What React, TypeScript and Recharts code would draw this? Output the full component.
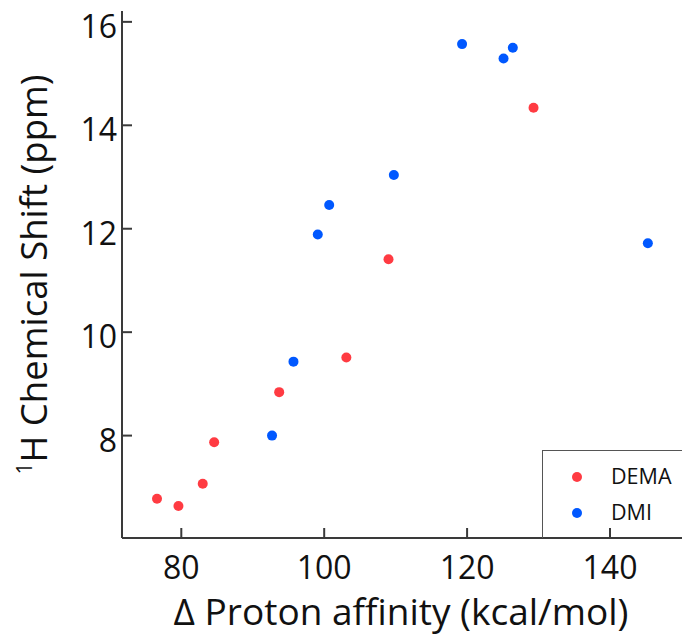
import React from "react"
import { ScatterChart, Scatter, XAxis, YAxis, Legend, Label } from "recharts"

// values
const demaX = [76.6, 79.6, 83.0, 84.6, 93.7, 103.1, 109.0, 129.3]
const demaY = [6.78, 6.64, 7.07, 7.87, 8.84, 9.51, 11.41, 14.34]
const dmiX = [92.7, 95.7, 99.1, 100.7, 109.75, 119.3, 125.1, 126.4, 145.3]
const dmiY = [8.0, 9.43, 11.89, 12.46, 13.04, 15.57, 15.29, 15.5, 11.72]
const xTicks = [80, 100, 120, 140]
const yTicks = [8, 10, 12, 14, 16]

const xDomain = [71.7, 150.36]
const yDomain = [6.02, 16.21]

const FONT = "'Open Sans', sans-serif"
const AXIS = "#3a3a3a"
const RED = "#ff3b42"
const BLUE = "#0058ff"

const dema = demaX.map((x, i) => ({ x, y: demaY[i] }))
const dmi = dmiX.map((x, i) => ({ x, y: dmiY[i] }))

function BottomTick({ x, y, payload }: any) {
  return (
    <g>
      <line x1={x} y1={y} x2={x} y2={y - 10} stroke={AXIS} strokeWidth={2} />
      <text x={x} y={y + 41} textAnchor="middle" fontSize={32} fontFamily={FONT} fill="#111">
        {payload.value}
      </text>
    </g>
  )
}

function LeftTick({ x, y, payload }: any) {
  return (
    <g>
      <line x1={x} y1={y} x2={x + 10} y2={y} stroke={AXIS} strokeWidth={2} />
      <text x={x - 5} y={y + 16} textAnchor="end" fontSize={32} fontFamily={FONT} fill="#111">
        {payload.value}
      </text>
    </g>
  )
}

function TopTick({ x, y }: any) {
  return <line x1={x} y1={y} x2={x} y2={y + 10} stroke={AXIS} strokeWidth={2} />
}

function RightTick({ x, y }: any) {
  return <line x1={x} y1={y} x2={x - 10} y2={y} stroke={AXIS} strokeWidth={2} />
}

function Dot(color: string) {
  return (p: any) => <circle cx={p.cx} cy={p.cy} r={5} fill={color} />
}

function LegendBox({ payload }: any) {
  return (
    <div
      style={{
        position: "relative",
        width: 150,
        height: 88,
        boxSizing: "border-box",
        borderLeft: "1.5px solid #555",
        borderTop: "1.5px solid #555",
        fontFamily: FONT,
        fontSize: 21.5,
        color: "#111",
      }}
    >
      {(payload || []).map((entry: any, i: number) => (
        <div key={entry.value} style={{ position: "absolute", left: 0, top: 26 + i * 35.7 }}>
          <span
            style={{
              position: "absolute",
              left: 28.5,
              top: -5,
              width: 10,
              height: 10,
              borderRadius: 5,
              background: entry.color,
            }}
          />
          <span style={{ position: "absolute", left: 68, top: -15, lineHeight: "28px", whiteSpace: "nowrap" }}>
            {entry.value}
          </span>
        </div>
      ))}
    </div>
  )
}

export default function App() {
  return (
    <div style={{ position: "absolute", left: 0, top: 0, width: 682, height: 636, overflow: "hidden", background: "#fff" }}>
      <ScatterChart width={690} height={636} margin={{ top: 11, right: 6, bottom: 0, left: 0 }}>
        <XAxis
          xAxisId="bottom"
          type="number"
          dataKey="x"
          domain={xDomain}
          allowDataOverflow
          ticks={xTicks}
          interval={0}
          height={98}
          tickSize={0}
          tickMargin={0}
          tickLine={false}
          axisLine={{ stroke: AXIS, strokeWidth: 2 }}
          tick={<BottomTick />}
        >
          <Label
            content={({ viewBox }: any) => (
              <text
                x={viewBox.x + viewBox.width / 2 - 2}
                y={viewBox.y + 87}
                textAnchor="middle"
                fontSize={37}
                fontFamily={FONT}
                fill="#111"
              >
                Δ Proton affinity (kcal/mol)
              </text>
            )}
          />
        </XAxis>
        <XAxis
          xAxisId="top"
          orientation="top"
          type="number"
          dataKey="x"
          domain={xDomain}
          allowDataOverflow
          ticks={xTicks}
          interval={0}
          height={0}
          tickSize={0}
          tickMargin={0}
          tickLine={false}
          axisLine={{ stroke: AXIS, strokeWidth: 2 }}
          tick={<TopTick />}
        />
        <YAxis
          yAxisId="left"
          type="number"
          dataKey="y"
          domain={yDomain}
          allowDataOverflow
          ticks={yTicks}
          interval={0}
          width={122}
          tickSize={0}
          tickMargin={0}
          tickLine={false}
          axisLine={{ stroke: AXIS, strokeWidth: 2 }}
          tick={<LeftTick />}
        >
          <Label
            content={({ viewBox }: any) => {
              const cx = 47
              const cy = viewBox.y + viewBox.height / 2
              return (
                <text
                  x={cx}
                  y={cy}
                  transform={`rotate(-90, ${cx}, ${cy})`}
                  textAnchor="middle"
                  fontSize={36.5}
                  fontFamily={FONT}
                  fill="#111"
                >
                  <tspan fontSize={21} dy={-15}>1</tspan>
                  <tspan dy={15}>H Chemical Shift (ppm)</tspan>
                </text>
              )
            }}
          />
        </YAxis>
        <YAxis
          yAxisId="right"
          orientation="right"
          type="number"
          dataKey="y"
          domain={yDomain}
          allowDataOverflow
          ticks={yTicks}
          interval={0}
          width={0}
          tickSize={0}
          tickMargin={0}
          tickLine={false}
          axisLine={{ stroke: AXIS, strokeWidth: 2 }}
          tick={<RightTick />}
        />
        <Legend
          layout="vertical"
          align="center"
          verticalAlign="middle"
          content={<LegendBox />}
          wrapperStyle={{ left: 542, top: 450, width: 150, height: 88 }}
        />
        <Scatter
          name="DEMA"
          data={dema}
          xAxisId="bottom"
          yAxisId="left"
          fill={RED}
          shape={Dot(RED)}
          isAnimationActive={false}
        />
        <Scatter
          name="DMI"
          data={dmi}
          xAxisId="bottom"
          yAxisId="left"
          fill={BLUE}
          shape={Dot(BLUE)}
          isAnimationActive={false}
        />
      </ScatterChart>
    </div>
  )
}
